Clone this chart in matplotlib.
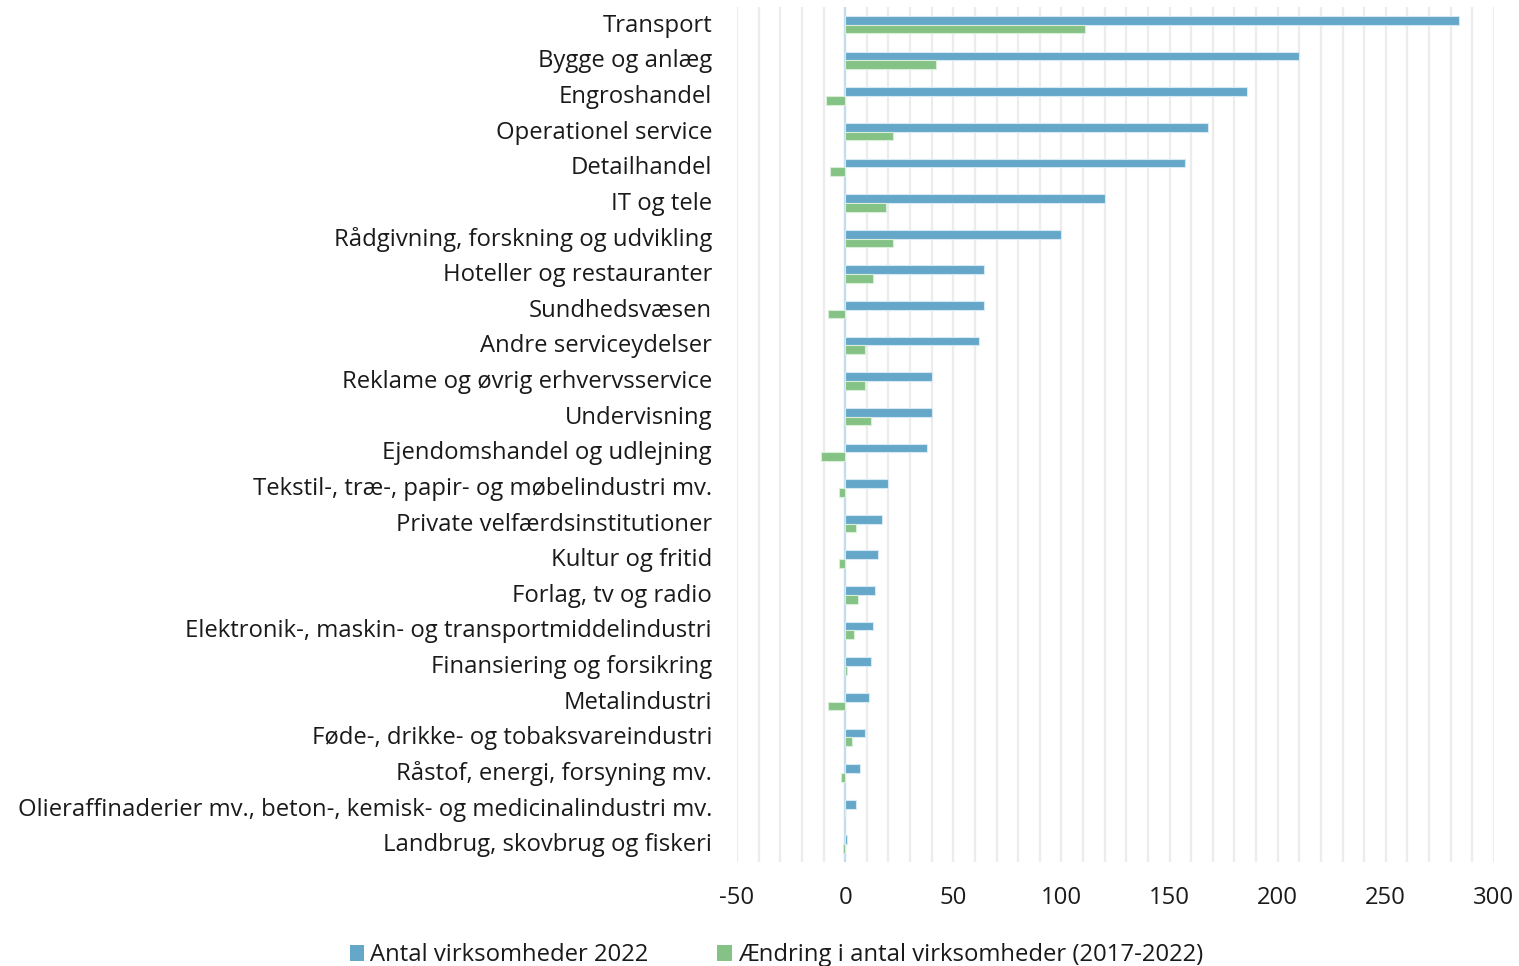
import numpy as np
import matplotlib.pyplot as plt
import matplotlib.transforms as mtransforms
from matplotlib.patches import Patch

plt.rcParams['font.family'] = ['Open Sans', 'DejaVu Sans']

## data ##
categories = ['Transport', 'Bygge og anlæg', 'Engroshandel', 'Operationel service',
              'Detailhandel', 'IT og tele', 'Rådgivning, forskning og udvikling',
              'Hoteller og restauranter', 'Sundhedsvæsen', 'Andre serviceydelser',
              'Reklame og øvrig erhvervsservice', 'Undervisning',
              'Ejendomshandel og udlejning', 'Tekstil-, træ-, papir- og møbelindustri mv.',
              'Private velfærdsinstitutioner', 'Kultur og fritid', 'Forlag, tv og radio',
              'Elektronik-, maskin- og transportmiddelindustri', 'Finansiering og forsikring',
              'Metalindustri', 'Føde-, drikke- og tobaksvareindustri',
              'Råstof, energi, forsyning mv.',
              'Olieraffinaderier mv., beton-, kemisk- og medicinalindustri mv.',
              'Landbrug, skovbrug og fiskeri']
antal_2022 = [284, 210, 186, 168, 157, 120, 100, 64, 64, 62, 40, 40, 38, 20, 17, 15, 14, 13, 12, 11, 9, 7, 5, 1]
aendring = [111, 42, -9, 22, -7, 19, 22, 13, -8, 9, 9, 12, -11, -3, 5, -3, 6, 4, 1, -8, 3, -2, 0, -1]
xticks = [-50, 0, 50, 100, 150, 200, 250, 300]
xlabels = ['-50', '0', '50', '100', '150', '200', '250', '300']

blue = '#64a7c8'
green = '#85c285'
fs = 17.2

fig = plt.figure(figsize=(15.19, 9.66), dpi=100)
ax = fig.add_axes([0.4852, 0.1077, 0.4983, 0.8851])

y = np.arange(len(categories))
h = 0.245
ax.barh(y - h / 2, antal_2022, height=h, color=blue, edgecolor='#d6e9f2', linewidth=0.8, zorder=3)
ax.barh(y + h / 2, aendring, height=h, color=green, edgecolor='#d9eed9', linewidth=0.8, zorder=3)

ax.set_xlim(-50, 300)
ax.set_ylim(len(categories) - 0.5, -0.5)
ax.set_xticks(xticks)
ax.set_xticklabels(xlabels)
ax.set_xticks(np.arange(-50, 301, 10), minor=True)
ax.grid(axis='x', which='both', color='#ececec', linewidth=1.6, zorder=0)
ax.axvline(0, color='#c4dded', linewidth=1.6, zorder=2)

ax.set_yticks(y)
ax.set_yticklabels(categories, fontsize=fs, color='#1a1a1a')
ax.tick_params(axis='y', length=0, pad=18)
ax.tick_params(axis='x', which='both', length=0, pad=17, labelsize=fs, labelcolor='#1a1a1a')
shift = mtransforms.ScaledTranslation(0, 2 / 100, fig.dpi_scale_trans)
for lab in ax.get_yticklabels():
    lab.set_transform(lab.get_transform() + shift)
for s in ax.spines.values():
    s.set_visible(False)

handles = [Patch(facecolor=blue, label='Antal virksomheder 2022'),
           Patch(facecolor=green, label='Ændring i antal virksomheder (2017-2022)')]
fig.legend(handles=handles, loc='center', bbox_to_anchor=(0.511, 0.011), ncol=2, frameon=False,
           fontsize=fs, handlelength=0.62, handleheight=0.62, handletextpad=0.25,
           columnspacing=2.85, labelcolor='#1a1a1a')

plt.savefig('out.png', dpi=100)
